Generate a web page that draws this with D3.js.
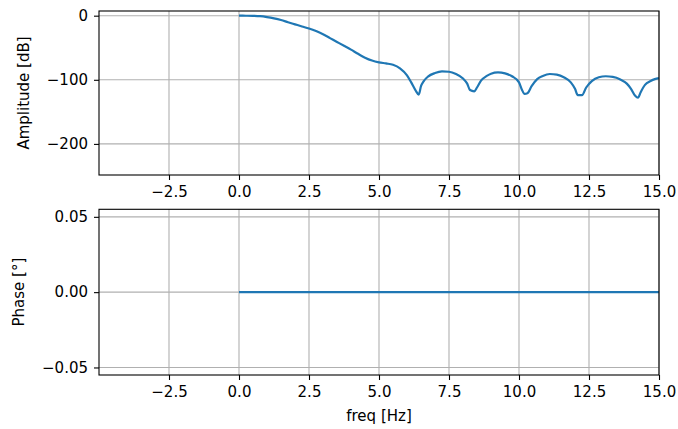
<!DOCTYPE html>
<html>
<head>
<meta charset="utf-8">
<script src="https://cdn.jsdelivr.net/npm/d3@7"></script>
<style>
  html, body { margin: 0; padding: 0; background: #fff; }
  svg { display: block; }
  text { font-family: "DejaVu Sans", sans-serif; }
</style>
</head>
<body>
<svg id="chart" width="678" height="429"></svg>
<script>
// Frequency response of the filter: amplitude (dB) and phase (deg) vs frequency (Hz)
const ampFreq = [
  0.0, 0.25, 0.5, 0.75, 1.0, 1.25, 1.5, 1.75, 2.0, 2.25, 2.5, 2.75, 3.0, 3.25, 3.5, 3.75,
  4.0, 4.25, 4.5, 4.75, 5.0, 5.25, 5.5, 5.75, 6.0, 6.15, 6.3, 6.42, 6.5, 6.6, 6.75, 7.0,
  7.25, 7.5, 7.75, 8.0, 8.15, 8.25, 8.4, 8.5, 8.65, 8.85, 9.0, 9.25, 9.5, 9.75, 10.0, 10.1,
  10.2, 10.3, 10.45, 10.65, 10.85, 11.1, 11.35, 11.6, 11.85, 12.0, 12.1, 12.25, 12.4, 12.6,
  12.85, 13.1, 13.35, 13.6, 13.85, 14.0, 14.15, 14.25, 14.35, 14.5, 14.7, 14.85, 15.0
];
const ampDb = [
  0, -0.1, -0.3, -0.8, -2.2, -4.2, -6.8, -10.2, -13.5, -16.8, -20, -24, -29, -35, -41, -47,
  -53, -59.5, -65.5, -70, -72.8, -74.5, -76.5, -82, -93, -104, -116, -123, -110, -102, -95, -89.5,
  -87, -87.5, -91, -98, -106, -116, -118, -112, -101, -94, -90.5, -88.5, -90, -94.5, -104, -115,
  -122, -121, -110, -99, -94, -91, -92, -96, -104, -114, -124, -124, -112, -102,
  -96, -94.5, -95.5, -99, -106, -114, -125, -128, -119, -108, -102, -99, -97.5
];
const phaseFreq = [0, 15];
const phaseDeg = [0, 0];

const xTicks = [-2.5, 0, 2.5, 5, 7.5, 10, 12.5, 15];
const ampTicks = [0, -100, -200];
const phaseTicks = [0.05, 0, -0.05];

const svg = d3.select("#chart");
const left = 99, right = 659;
const lineColor = "#1f77b4";
const gridColor = "#b0b0b0";

function panel(cfg) {
  const x = d3.scaleLinear().domain([-5, 15]).range([left, right]);
  const y = d3.scaleLinear().domain(cfg.yDomain).range([cfg.bottom, cfg.top]);
  const g = svg.append("g");

  // grid
  g.selectAll(".gx").data(xTicks).join("line")
    .attr("x1", d => x(d)).attr("x2", d => x(d))
    .attr("y1", cfg.top).attr("y2", cfg.bottom)
    .attr("stroke", gridColor).attr("stroke-width", 1.1);
  g.selectAll(".gy").data(cfg.yTicks).join("line")
    .attr("x1", left).attr("x2", right)
    .attr("y1", d => y(d)).attr("y2", d => y(d))
    .attr("stroke", gridColor).attr("stroke-width", 1.1);

  // data line
  const line = d3.line().curve(d3.curveMonotoneX).x(d => x(d[0])).y(d => y(d[1]));
  g.append("path")
    .datum(d3.zip(cfg.xs, cfg.ys))
    .attr("d", line)
    .attr("fill", "none")
    .attr("stroke", lineColor)
    .attr("stroke-width", 2.2)
    .attr("stroke-linejoin", "round")
    .attr("stroke-linecap", "butt");

  // frame
  g.append("rect")
    .attr("x", left).attr("y", cfg.top)
    .attr("width", right - left).attr("height", cfg.bottom - cfg.top)
    .attr("fill", "none").attr("stroke", "#000").attr("stroke-width", 1.1);

  // axes
  const xAxis = d3.axisBottom(x).tickValues(xTicks).tickFormat(d3.format(".1f"))
    .tickSize(5).tickSizeOuter(0).tickPadding(5);
  const gx = g.append("g").attr("transform", `translate(0,${cfg.bottom})`).call(xAxis);
  gx.select(".domain").remove();
  gx.selectAll("line").attr("stroke", "#000").attr("stroke-width", 1.1);
  gx.selectAll("text").attr("font-size", 15).attr("fill", "#000")
    .attr("font-family", "DejaVu Sans, sans-serif").attr("dy", "0.82em");

  const yAxis = d3.axisLeft(y).tickValues(cfg.yTicks).tickFormat(cfg.yFormat)
    .tickSize(5).tickSizeOuter(0).tickPadding(6);
  const gy = g.append("g").attr("transform", `translate(${left},0)`).call(yAxis);
  gy.select(".domain").remove();
  gy.selectAll("line").attr("stroke", "#000").attr("stroke-width", 1.1);
  gy.selectAll("text").attr("font-size", 15).attr("fill", "#000")
    .attr("font-family", "DejaVu Sans, sans-serif");

  // y label
  g.append("text")
    .attr("transform", `translate(${cfg.labelX},${(cfg.top + cfg.bottom) / 2}) rotate(-90)`)
    .attr("text-anchor", "middle")
    .attr("font-size", 15)
    .attr("fill", "#000")
    .text(cfg.yLabel);
}

panel({
  top: 11, bottom: 175, yDomain: [-248.5, 7.3], yTicks: ampTicks,
  yFormat: d3.format("d"), xs: ampFreq, ys: ampDb,
  yLabel: "Amplitude [dB]", labelX: 29
});

panel({
  top: 209.3, bottom: 375, yDomain: [-0.055, 0.055], yTicks: phaseTicks,
  yFormat: d3.format(".2f"), xs: phaseFreq, ys: phaseDeg,
  yLabel: "Phase [°]", labelX: 24
});

svg.append("text")
  .attr("x", (left + right) / 2).attr("y", 421)
  .attr("text-anchor", "middle")
  .attr("font-size", 15)
  .attr("fill", "#000")
  .text("freq [Hz]");
</script>
</body>
</html>
